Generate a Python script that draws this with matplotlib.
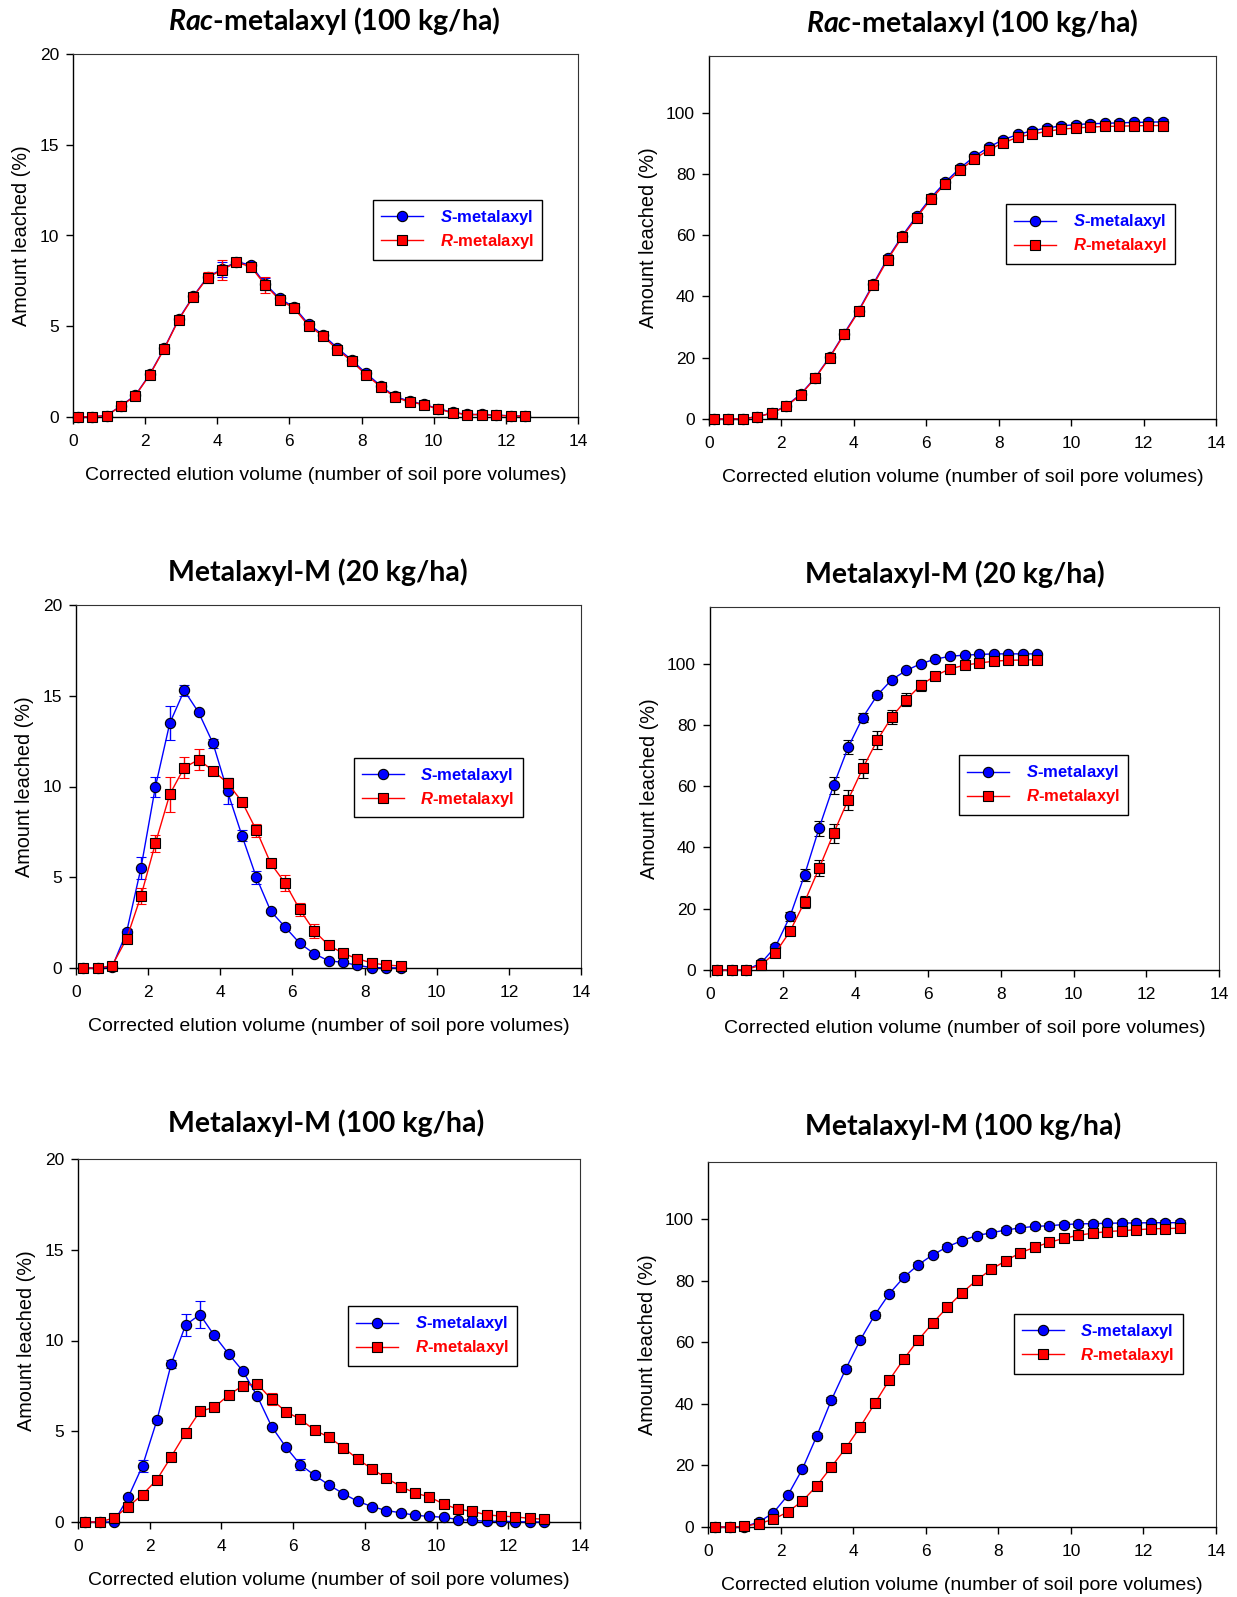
import matplotlib
matplotlib.use("Agg")
import matplotlib.pyplot as plt
from matplotlib.lines import Line2D

plt.rcParams['font.family'] = ['Liberation Sans', 'DejaVu Sans']
plt.rcParams['mathtext.fontset'] = 'custom'
plt.rcParams['mathtext.rm'] = 'Liberation Sans'
plt.rcParams['mathtext.it'] = 'Lato:italic:bold'
plt.rcParams['mathtext.bfit'] = 'Liberation Sans:italic:bold'

# ---------------- data ----------------
# Rac-metalaxyl (100 kg/ha)
x_rac = [0.13, 0.53, 0.93, 1.33, 1.73, 2.13, 2.53, 2.93, 3.33, 3.73, 4.13, 4.53,
         4.93, 5.33, 5.73, 6.13, 6.53, 6.93, 7.33, 7.73, 8.13, 8.53, 8.93, 9.33,
         9.73, 10.13, 10.53, 10.93, 11.33, 11.73, 12.13, 12.53]
rac_S_diff = [0, 0.02, 0.08, 0.62, 1.2, 2.36, 3.79, 5.4, 6.64, 7.72, 8.14, 8.56,
              8.37, 7.33, 6.53, 6.05, 5.12, 4.53, 3.8, 3.13, 2.4, 1.72, 1.13, 0.87,
              0.7, 0.45, 0.26, 0.14, 0.14, 0.1, 0.07, 0.05]
rac_S_diff_err = [0, 0, 0, 0.05, 0.08, 0.1, 0.1, 0.15, 0.1, 0.2, 0.4, 0.1,
                  0.1, 0.35, 0.1, 0.1, 0.1, 0.1, 0.1, 0.08, 0.1, 0.08, 0.1, 0.08,
                  0.06, 0.06, 0.04, 0.03, 0.03, 0.02, 0.02, 0.02]
rac_R_diff = [0, 0.02, 0.07, 0.6, 1.18, 2.33, 3.76, 5.36, 6.61, 7.68, 8.1, 8.52,
              8.28, 7.27, 6.45, 5.99, 5.03, 4.46, 3.71, 3.07, 2.31, 1.67, 1.08, 0.83,
              0.68, 0.42, 0.24, 0.13, 0.13, 0.09, 0.06, 0.04]
rac_R_diff_err = [0, 0, 0, 0.05, 0.1, 0.1, 0.1, 0.2, 0.12, 0.3, 0.55, 0.1,
                  0.15, 0.45, 0.15, 0.12, 0.12, 0.12, 0.1, 0.1, 0.12, 0.1, 0.15, 0.1,
                  0.08, 0.08, 0.05, 0.03, 0.03, 0.02, 0.02, 0.02]
rac_S_cum = [0, 0.02, 0.1, 0.72, 1.95, 4.3, 8.1, 13.5, 20.2, 27.9, 35.4, 44.0,
             52.4, 59.7, 66.2, 72.3, 77.4, 81.9, 85.7, 88.8, 91.2, 92.9, 94.1, 95.0,
             95.7, 96.1, 96.4, 96.5, 96.7, 96.8, 96.9, 97.0]
rac_S_cum_err = [0, 0, 0, 0.1, 0.2, 0.3, 0.4, 0.5, 0.5, 0.6, 0.8, 0.8,
                 0.8, 0.9, 0.9, 0.9, 0.9, 0.9, 0.9, 0.9, 0.9, 0.9, 0.9, 0.9,
                 0.9, 0.9, 0.9, 0.9, 0.9, 0.9, 0.9, 0.9]
rac_R_cum = [0, 0.02, 0.1, 0.7, 1.9, 4.1, 7.9, 13.3, 20.0, 27.6, 35.1, 43.6,
             52.0, 59.3, 65.7, 71.8, 76.8, 81.2, 84.9, 87.9, 90.2, 92.0, 93.0, 93.9,
             94.6, 95.0, 95.3, 95.5, 95.6, 95.7, 95.8, 95.8]
rac_R_cum_err = [0, 0, 0, 0.1, 0.2, 0.3, 0.4, 0.5, 0.6, 0.7, 0.9, 1.0,
                 1.0, 1.1, 1.1, 1.1, 1.1, 1.1, 1.1, 1.1, 1.1, 1.1, 1.1, 1.1,
                 1.1, 1.1, 1.1, 1.1, 1.1, 1.1, 1.1, 1.1]

# Metalaxyl-M (20 kg/ha)
x_m20 = [0.2, 0.6, 1.0, 1.4, 1.8, 2.2, 2.6, 3.0, 3.4, 3.8, 4.2, 4.6, 5.0, 5.4,
         5.8, 6.2, 6.6, 7.0, 7.4, 7.8, 8.2, 8.6, 9.0]
m20_S_diff = [0, 0, 0.05, 1.96, 5.5, 9.97, 13.49, 15.29, 14.08, 12.37, 9.73, 7.3,
              4.99, 3.13, 2.25, 1.37, 0.79, 0.4, 0.31, 0.15, 0.02, 0.01, 0.01]
m20_S_diff_err = [0, 0, 0.02, 0.2, 0.6, 0.55, 0.95, 0.3, 0.1, 0.25, 0.72, 0.32,
                  0.35, 0.12, 0.15, 0.1, 0.08, 0.05, 0.05, 0.03, 0.02, 0.01, 0.01]
m20_R_diff = [0, 0, 0.13, 1.6, 3.96, 6.86, 9.57, 11.04, 11.48, 10.87, 10.19, 9.17,
              7.59, 5.76, 4.67, 3.23, 2.05, 1.26, 0.81, 0.51, 0.28, 0.16, 0.11]
m20_R_diff_err = [0, 0, 0.03, 0.15, 0.45, 0.47, 0.95, 0.58, 0.57, 0.1, 0.3, 0.12,
                  0.37, 0.12, 0.43, 0.37, 0.37, 0.12, 0.1, 0.08, 0.05, 0.04, 0.03]
m20_S_cum = [0, 0, 0.1, 2.2, 7.6, 17.5, 31.0, 46.3, 60.3, 72.7, 82.4, 89.7,
             94.8, 97.8, 100.0, 101.5, 102.4, 102.8, 103.0, 103.2, 103.2, 103.2, 103.2]
m20_S_cum_err = [0, 0, 0.1, 0.4, 0.8, 1.5, 2.1, 2.5, 2.8, 2.3, 1.6, 1.0,
                 0.7, 0.5, 0.4, 0.3, 0.3, 0.3, 0.3, 0.3, 0.3, 0.3, 0.3]
m20_R_cum = [0, 0, 0.1, 1.6, 5.6, 12.6, 22.2, 33.2, 44.6, 55.6, 65.8, 75.0,
             82.6, 88.3, 93.0, 96.1, 98.3, 99.5, 100.2, 100.8, 101.1, 101.2, 101.3]
m20_R_cum_err = [0, 0, 0.1, 0.3, 0.7, 1.2, 2.0, 2.6, 3.2, 3.3, 3.0, 2.9,
                 2.4, 2.2, 1.8, 1.3, 0.8, 0.6, 0.5, 0.5, 0.5, 0.5, 0.5]

# Metalaxyl-M (100 kg/ha)
x_m100 = [0.2, 0.6, 1.0, 1.4, 1.8, 2.2, 2.6, 3.0, 3.4, 3.8, 4.2, 4.6, 5.0, 5.4,
          5.8, 6.2, 6.6, 7.0, 7.4, 7.8, 8.2, 8.6, 9.0, 9.4, 9.8, 10.2, 10.6,
          11.0, 11.4, 11.8, 12.2, 12.6, 13.0]
m100_S_diff = [0, 0, 0, 1.36, 3.1, 5.6, 8.71, 10.85, 11.43, 10.28, 9.26, 8.31,
               6.93, 5.26, 4.12, 3.16, 2.57, 2.04, 1.56, 1.14, 0.85, 0.63, 0.51,
               0.37, 0.31, 0.26, 0.13, 0.09, 0.04, 0.04, 0.02, 0.0, 0.0]
m100_S_diff_err = [0, 0, 0, 0.12, 0.32, 0.15, 0.22, 0.6, 0.72, 0.12, 0.14, 0.1,
                   0.1, 0.1, 0.1, 0.3, 0.2, 0.15, 0.08, 0.08, 0.06, 0.05, 0.04,
                   0.04, 0.03, 0.03, 0.02, 0.02, 0.01, 0.01, 0.01, 0.01, 0.01]
m100_R_diff = [0, 0, 0.22, 0.85, 1.51, 2.33, 3.6, 4.91, 6.1, 6.32, 6.99, 7.52,
               7.61, 6.75, 6.08, 5.66, 5.06, 4.67, 4.1, 3.47, 2.92, 2.43, 1.95,
               1.6, 1.38, 0.99, 0.7, 0.59, 0.39, 0.33, 0.28, 0.2, 0.15]
m100_R_diff_err = [0, 0, 0.03, 0.08, 0.08, 0.1, 0.1, 0.12, 0.12, 0.1, 0.12, 0.1,
                   0.2, 0.33, 0.1, 0.1, 0.1, 0.1, 0.08, 0.1, 0.1, 0.08, 0.08,
                   0.06, 0.06, 0.05, 0.04, 0.04, 0.03, 0.03, 0.03, 0.02, 0.02]
m100_S_cum = [0, 0, 0.1, 1.6, 4.6, 10.3, 18.8, 29.6, 41.2, 51.4, 60.8, 68.9,
              75.8, 81.1, 85.2, 88.4, 91.0, 93.0, 94.6, 95.5, 96.4, 97.1, 97.6,
              97.8, 98.2, 98.4, 98.5, 98.6, 98.7, 98.7, 98.8, 98.8, 98.8]
m100_S_cum_err = [0, 0, 0.1, 0.2, 0.4, 0.5, 0.6, 0.8, 0.9, 0.9, 0.9, 0.9,
                  0.9, 0.9, 0.9, 0.9, 0.9, 0.9, 0.9, 0.9, 0.9, 0.9, 0.9,
                  0.9, 0.9, 0.9, 0.9, 0.9, 0.9, 0.9, 0.9, 0.9, 0.9]
m100_R_cum = [0, 0, 0.2, 1.1, 2.5, 4.9, 8.4, 13.4, 19.5, 25.7, 32.6, 40.2,
              47.8, 54.6, 60.8, 66.3, 71.4, 76.0, 80.1, 83.6, 86.4, 89.0, 90.8,
              92.4, 93.7, 94.7, 95.4, 95.9, 96.2, 96.5, 96.8, 96.9, 97.0]
m100_R_cum_err = [0, 0, 0.1, 0.2, 0.3, 0.4, 0.5, 0.6, 0.7, 0.8, 0.8, 0.9,
                  0.9, 1.0, 1.0, 1.0, 1.0, 1.0, 1.0, 1.0, 1.0, 1.0, 1.0,
                  1.0, 1.0, 1.0, 1.0, 1.0, 1.0, 1.0, 1.0, 1.0, 1.0]

titles = [r'$\mathit{Rac}$-metalaxyl (100 kg/ha)',
          'Metalaxyl-M (20 kg/ha)',
          'Metalaxyl-M (100 kg/ha)']
x_label = 'Corrected elution volume (number of soil pore volumes)'
y_label = 'Amount leached (%)'
x_ticks = [0, 2, 4, 6, 8, 10, 12, 14]
diff_ticks = [0, 5, 10, 15, 20]
cum_ticks = [0, 20, 40, 60, 80, 100]
S_label = r'$\bfit{S}$-metalaxyl'
R_label = r'$\bfit{R}$-metalaxyl'

# ---------------- layout ----------------
W, H = 1237, 1597
fig = plt.figure(figsize=(W / 100, H / 100), dpi=100)
fig.patch.set_facecolor('white')


def rect(l, r, t, b):
    return [l / W, 1 - b / H, (r - l) / W, (b - t) / H]


BLUE = '#0000FF'
RED = '#FF0000'


def panel(box, x, s, s_err, r, r_err, ylim, yticks, cumulative, title,
          title_xy, legend_anchor):
    ax = fig.add_axes(rect(*box))
    ecol_s = 'black' if cumulative else BLUE
    ecol_r = 'black' if cumulative else RED
    ax.errorbar(x, s, yerr=s_err, color=BLUE, lw=1.0, marker='o', ms=7.4,
                mfc=BLUE, mec='black', mew=0.8, ecolor=ecol_s, elinewidth=1.0,
                capsize=3.5, capthick=1.0, clip_on=False, zorder=3)
    ax.errorbar(x, r, yerr=r_err, color=RED, lw=1.0, marker='s', ms=6.6,
                mfc=RED, mec='black', mew=0.8, ecolor=ecol_r, elinewidth=1.0,
                capsize=3.5, capthick=1.0, clip_on=False, zorder=4)
    ax.set_xlim(0, 14)
    ax.set_ylim(*ylim)
    ax.set_xticks(x_ticks)
    ax.set_yticks(yticks)
    ax.tick_params(direction='out', length=5, width=1, labelsize=12.5,
                   colors='black')
    ax.tick_params(axis='x', pad=7.5)
    ax.tick_params(axis='y', pad=5)
    for side in ('left', 'bottom'):
        ax.spines[side].set_linewidth(1.0)
        ax.spines[side].set_color('black')
    for side in ('top', 'right'):
        ax.spines[side].set_linewidth(0.8)
        ax.spines[side].set_color('#333333')
    ax.set_xlabel(x_label, fontsize=14, labelpad=13)
    ax.set_ylabel(y_label, fontsize=14.3, labelpad=6)

    handles = [Line2D([], [], color=BLUE, lw=1.0, marker='o', ms=7.4, mfc=BLUE,
                      mec='black', mew=0.8),
               Line2D([], [], color=RED, lw=1.0, marker='s', ms=6.6, mfc=RED,
                      mec='black', mew=0.8)]
    leg = ax.legend(handles, [S_label, R_label], loc='upper left',
                    bbox_to_anchor=legend_anchor, borderaxespad=0,
                    fancybox=False, shadow=False, framealpha=1,
                    edgecolor='black', handlelength=2.5, handletextpad=1.0,
                    labelspacing=0.3, borderpad=0.5,
                    prop={'family': 'Liberation Sans', 'weight': 'bold',
                          'size': 12})
    leg.get_frame().set_linewidth(1.0)
    for txt, col in zip(leg.get_texts(), [BLUE, RED]):
        txt.set_color(col)

    fig.text(title_xy[0] / W, 1 - title_xy[1] / H, title, ha='center',
             va='center', fontsize=20.5, fontweight='bold', family='Lato')
    return ax


CUM_TOP = 118.5

panel((73, 578, 54, 417), x_rac, rac_S_diff, rac_S_diff_err, rac_R_diff,
      rac_R_diff_err, (0, 20), diff_ticks, False, titles[0], (334, 21),
      (0.594, 0.598))
panel((709, 1216, 56, 419), x_rac, rac_S_cum, rac_S_cum_err, rac_R_cum,
      rac_R_cum_err, (0, CUM_TOP), cum_ticks, True, titles[0], (972, 23),
      (0.586, 0.592))
panel((76, 581, 605, 968), x_m20, m20_S_diff, m20_S_diff_err, m20_R_diff,
      m20_R_diff_err, (0, 20), diff_ticks, False, titles[1], (318, 572),
      (0.550, 0.579))
panel((710, 1219, 607, 970), x_m20, m20_S_cum, m20_S_cum_err, m20_R_cum,
      m20_R_cum_err, (0, CUM_TOP), cum_ticks, True, titles[1], (955, 574),
      (0.489, 0.592))
panel((78, 580, 1159, 1522), x_m100, m100_S_diff, m100_S_diff_err, m100_R_diff,
      m100_R_diff_err, (0, 20), diff_ticks, False, titles[2], (326, 1123),
      (0.538, 0.595))
panel((708, 1216, 1162, 1527), x_m100, m100_S_cum, m100_S_cum_err, m100_R_cum,
      m100_R_cum_err, (0, CUM_TOP), cum_ticks, True, titles[2], (963, 1126),
      (0.602, 0.584))

fig.savefig('out.png', dpi=100, facecolor='white')
